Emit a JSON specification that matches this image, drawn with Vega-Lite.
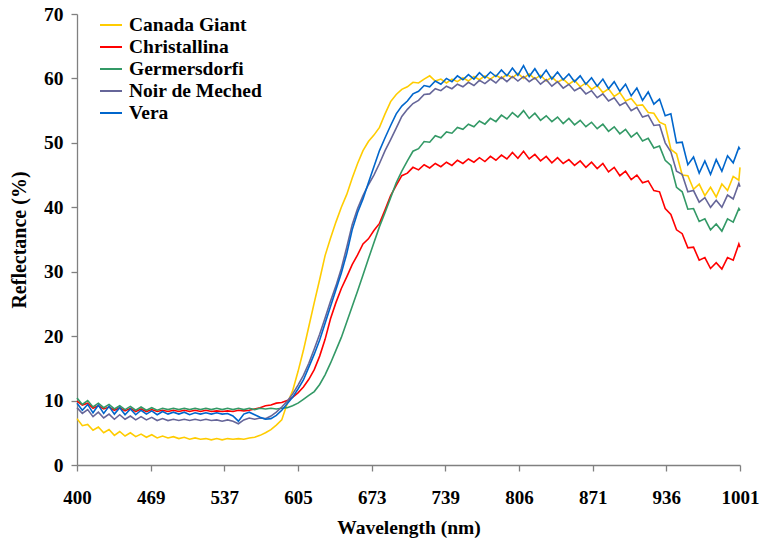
{
"$schema": "https://vega.github.io/schema/vega-lite/v6.json",
"width": 663, "height": 451,
"autosize": {"type": "none"},
"padding": {"left": 77, "top": 14, "right": 21, "bottom": 78},
"background": "white",
"config": {"view": {"stroke": null}, "font": "Times New Roman, Liberation Serif, serif"},
"data": {"values": [
{"w":400,"Canada Giant":7.2,"Christallina":9.9,"Germersdorfi":10.4,"Noir de Meched":8.9,"Vera":9.6},
{"w":405,"Canada Giant":6.1,"Christallina":9.3,"Germersdorfi":9.4,"Noir de Meched":8.0,"Vera":8.5},
{"w":410,"Canada Giant":6.3,"Christallina":9.6,"Germersdorfi":10.0,"Noir de Meched":8.6,"Vera":9.4},
{"w":415,"Canada Giant":5.4,"Christallina":8.8,"Germersdorfi":9.0,"Noir de Meched":7.5,"Vera":8.1},
{"w":420,"Canada Giant":5.9,"Christallina":9.2,"Germersdorfi":9.6,"Noir de Meched":8.2,"Vera":9.3},
{"w":425,"Canada Giant":5.0,"Christallina":8.7,"Germersdorfi":8.9,"Noir de Meched":7.3,"Vera":8.0},
{"w":430,"Canada Giant":5.5,"Christallina":9.0,"Germersdorfi":9.4,"Noir de Meched":7.9,"Vera":9.1},
{"w":435,"Canada Giant":4.6,"Christallina":8.5,"Germersdorfi":8.7,"Noir de Meched":7.1,"Vera":7.9},
{"w":440,"Canada Giant":5.2,"Christallina":8.9,"Germersdorfi":9.2,"Noir de Meched":7.8,"Vera":8.9},
{"w":445,"Canada Giant":4.5,"Christallina":8.4,"Germersdorfi":8.6,"Noir de Meched":7.1,"Vera":7.8},
{"w":450,"Canada Giant":5.0,"Christallina":8.8,"Germersdorfi":9.1,"Noir de Meched":7.6,"Vera":8.7},
{"w":455,"Canada Giant":4.4,"Christallina":8.3,"Germersdorfi":8.5,"Noir de Meched":7.0,"Vera":7.8},
{"w":460,"Canada Giant":4.8,"Christallina":8.7,"Germersdorfi":9.0,"Noir de Meched":7.5,"Vera":8.5},
{"w":465,"Canada Giant":4.3,"Christallina":8.3,"Germersdorfi":8.5,"Noir de Meched":7.0,"Vera":7.9},
{"w":470,"Canada Giant":4.7,"Christallina":8.6,"Germersdorfi":8.9,"Noir de Meched":7.4,"Vera":8.4},
{"w":475,"Canada Giant":4.2,"Christallina":8.3,"Germersdorfi":8.5,"Noir de Meched":6.9,"Vera":7.8},
{"w":480,"Canada Giant":4.5,"Christallina":8.5,"Germersdorfi":8.8,"Noir de Meched":7.2,"Vera":8.3},
{"w":485,"Canada Giant":4.2,"Christallina":8.3,"Germersdorfi":8.6,"Noir de Meched":6.9,"Vera":7.9},
{"w":490,"Canada Giant":4.4,"Christallina":8.5,"Germersdorfi":8.8,"Noir de Meched":7.1,"Vera":8.2},
{"w":495,"Canada Giant":4.1,"Christallina":8.3,"Germersdorfi":8.6,"Noir de Meched":6.9,"Vera":7.9},
{"w":500,"Canada Giant":4.3,"Christallina":8.5,"Germersdorfi":8.8,"Noir de Meched":7.1,"Vera":8.2},
{"w":505,"Canada Giant":4.0,"Christallina":8.3,"Germersdorfi":8.6,"Noir de Meched":6.9,"Vera":7.8},
{"w":510,"Canada Giant":4.2,"Christallina":8.5,"Germersdorfi":8.8,"Noir de Meched":7.1,"Vera":8.1},
{"w":515,"Canada Giant":4.0,"Christallina":8.3,"Germersdorfi":8.6,"Noir de Meched":6.9,"Vera":7.9},
{"w":520,"Canada Giant":4.1,"Christallina":8.5,"Germersdorfi":8.8,"Noir de Meched":7.1,"Vera":8.1},
{"w":525,"Canada Giant":3.9,"Christallina":8.3,"Germersdorfi":8.6,"Noir de Meched":6.9,"Vera":7.9},
{"w":530,"Canada Giant":4.1,"Christallina":8.4,"Germersdorfi":8.8,"Noir de Meched":7.0,"Vera":8.1},
{"w":535,"Canada Giant":3.9,"Christallina":8.3,"Germersdorfi":8.6,"Noir de Meched":6.8,"Vera":7.9},
{"w":540,"Canada Giant":4.1,"Christallina":8.4,"Germersdorfi":8.8,"Noir de Meched":7.0,"Vera":8.0},
{"w":545,"Canada Giant":4.0,"Christallina":8.3,"Germersdorfi":8.6,"Noir de Meched":6.8,"Vera":7.6},
{"w":550,"Canada Giant":4.1,"Christallina":8.5,"Germersdorfi":8.8,"Noir de Meched":6.4,"Vera":6.8},
{"w":555,"Canada Giant":4.0,"Christallina":8.4,"Germersdorfi":8.6,"Noir de Meched":7.0,"Vera":7.9},
{"w":560,"Canada Giant":4.2,"Christallina":8.5,"Germersdorfi":8.8,"Noir de Meched":7.3,"Vera":8.2},
{"w":565,"Canada Giant":4.3,"Christallina":8.7,"Germersdorfi":8.6,"Noir de Meched":7.1,"Vera":7.8},
{"w":570,"Canada Giant":4.6,"Christallina":8.9,"Germersdorfi":8.8,"Noir de Meched":7.3,"Vera":7.4},
{"w":575,"Canada Giant":5.0,"Christallina":9.2,"Germersdorfi":8.7,"Noir de Meched":7.2,"Vera":7.1},
{"w":580,"Canada Giant":5.5,"Christallina":9.3,"Germersdorfi":8.8,"Noir de Meched":7.6,"Vera":7.2},
{"w":585,"Canada Giant":6.2,"Christallina":9.6,"Germersdorfi":8.7,"Noir de Meched":8.2,"Vera":7.7},
{"w":590,"Canada Giant":7.0,"Christallina":9.7,"Germersdorfi":8.8,"Noir de Meched":9.0,"Vera":8.5},
{"w":595,"Canada Giant":9.5,"Christallina":10.0,"Germersdorfi":8.9,"Noir de Meched":9.9,"Vera":9.5},
{"w":600,"Canada Giant":11.5,"Christallina":10.5,"Germersdorfi":9.2,"Noir de Meched":11.0,"Vera":10.5},
{"w":605,"Canada Giant":14.5,"Christallina":11.2,"Germersdorfi":9.6,"Noir de Meched":12.4,"Vera":11.8},
{"w":610,"Canada Giant":17.8,"Christallina":12.1,"Germersdorfi":10.2,"Noir de Meched":13.9,"Vera":13.2},
{"w":615,"Canada Giant":21.5,"Christallina":13.3,"Germersdorfi":10.8,"Noir de Meched":15.8,"Vera":15.2},
{"w":620,"Canada Giant":25.2,"Christallina":14.8,"Germersdorfi":11.4,"Noir de Meched":18.0,"Vera":17.2},
{"w":625,"Canada Giant":28.8,"Christallina":16.9,"Germersdorfi":12.5,"Noir de Meched":20.3,"Vera":19.4},
{"w":630,"Canada Giant":32.5,"Christallina":19.5,"Germersdorfi":14.0,"Noir de Meched":22.8,"Vera":22.0},
{"w":635,"Canada Giant":35.2,"Christallina":22.7,"Germersdorfi":15.8,"Noir de Meched":25.4,"Vera":24.6},
{"w":640,"Canada Giant":37.7,"Christallina":25.2,"Germersdorfi":17.8,"Noir de Meched":27.8,"Vera":27.2},
{"w":645,"Canada Giant":40.0,"Christallina":27.4,"Germersdorfi":19.8,"Noir de Meched":30.5,"Vera":29.8},
{"w":650,"Canada Giant":42.0,"Christallina":29.2,"Germersdorfi":22.2,"Noir de Meched":33.8,"Vera":32.8},
{"w":655,"Canada Giant":44.5,"Christallina":31.1,"Germersdorfi":24.6,"Noir de Meched":37.3,"Vera":36.5},
{"w":660,"Canada Giant":46.8,"Christallina":32.6,"Germersdorfi":27.0,"Noir de Meched":39.8,"Vera":39.2},
{"w":665,"Canada Giant":48.8,"Christallina":34.3,"Germersdorfi":29.5,"Noir de Meched":41.8,"Vera":41.3},
{"w":670,"Canada Giant":50.2,"Christallina":35.1,"Germersdorfi":32.0,"Noir de Meched":43.5,"Vera":43.8},
{"w":675,"Canada Giant":51.2,"Christallina":36.4,"Germersdorfi":34.5,"Noir de Meched":45.0,"Vera":46.3},
{"w":680,"Canada Giant":52.4,"Christallina":37.5,"Germersdorfi":37.0,"Noir de Meched":46.8,"Vera":48.8},
{"w":685,"Canada Giant":54.5,"Christallina":39.6,"Germersdorfi":39.2,"Noir de Meched":48.8,"Vera":50.8},
{"w":690,"Canada Giant":56.4,"Christallina":41.8,"Germersdorfi":41.5,"Noir de Meched":50.5,"Vera":52.7},
{"w":695,"Canada Giant":57.5,"Christallina":43.4,"Germersdorfi":43.8,"Noir de Meched":52.3,"Vera":54.5},
{"w":700,"Canada Giant":58.3,"Christallina":44.9,"Germersdorfi":45.6,"Noir de Meched":54.1,"Vera":55.7},
{"w":705,"Canada Giant":58.7,"Christallina":45.3,"Germersdorfi":47.2,"Noir de Meched":55.2,"Vera":56.5},
{"w":710,"Canada Giant":59.4,"Christallina":46.2,"Germersdorfi":48.7,"Noir de Meched":56.1,"Vera":57.6},
{"w":715,"Canada Giant":59.3,"Christallina":45.8,"Germersdorfi":49.1,"Noir de Meched":56.6,"Vera":58.0},
{"w":720,"Canada Giant":59.9,"Christallina":46.6,"Germersdorfi":50.2,"Noir de Meched":57.5,"Vera":58.9},
{"w":725,"Canada Giant":60.4,"Christallina":46.1,"Germersdorfi":50.1,"Noir de Meched":57.6,"Vera":58.7},
{"w":730,"Canada Giant":59.6,"Christallina":46.8,"Germersdorfi":51.1,"Noir de Meched":58.4,"Vera":59.6},
{"w":735,"Canada Giant":59.9,"Christallina":46.3,"Germersdorfi":50.8,"Noir de Meched":58.1,"Vera":59.1},
{"w":740,"Canada Giant":59.3,"Christallina":47.0,"Germersdorfi":51.7,"Noir de Meched":58.8,"Vera":60.0},
{"w":745,"Canada Giant":59.9,"Christallina":46.5,"Germersdorfi":51.5,"Noir de Meched":58.4,"Vera":59.5},
{"w":750,"Canada Giant":59.5,"Christallina":47.3,"Germersdorfi":52.4,"Noir de Meched":59.1,"Vera":60.4},
{"w":755,"Canada Giant":60.1,"Christallina":46.8,"Germersdorfi":52.1,"Noir de Meched":58.7,"Vera":59.8},
{"w":760,"Canada Giant":59.6,"Christallina":47.5,"Germersdorfi":52.9,"Noir de Meched":59.4,"Vera":60.6},
{"w":765,"Canada Giant":60.3,"Christallina":47.0,"Germersdorfi":52.5,"Noir de Meched":58.9,"Vera":59.9},
{"w":770,"Canada Giant":59.8,"Christallina":47.7,"Germersdorfi":53.4,"Noir de Meched":59.7,"Vera":60.9},
{"w":775,"Canada Giant":60.4,"Christallina":47.1,"Germersdorfi":52.9,"Noir de Meched":59.2,"Vera":60.1},
{"w":780,"Canada Giant":59.9,"Christallina":47.9,"Germersdorfi":53.8,"Noir de Meched":59.9,"Vera":61.0},
{"w":785,"Canada Giant":60.5,"Christallina":47.3,"Germersdorfi":53.3,"Noir de Meched":59.3,"Vera":60.3},
{"w":790,"Canada Giant":60.0,"Christallina":48.1,"Germersdorfi":54.3,"Noir de Meched":60.2,"Vera":61.3},
{"w":795,"Canada Giant":60.6,"Christallina":47.5,"Germersdorfi":53.7,"Noir de Meched":59.5,"Vera":60.4},
{"w":800,"Canada Giant":60.1,"Christallina":48.5,"Germersdorfi":54.7,"Noir de Meched":60.3,"Vera":61.6},
{"w":805,"Canada Giant":60.8,"Christallina":47.6,"Germersdorfi":54.0,"Noir de Meched":59.6,"Vera":60.5},
{"w":810,"Canada Giant":60.0,"Christallina":48.7,"Germersdorfi":55.0,"Noir de Meched":60.3,"Vera":62.0},
{"w":815,"Canada Giant":60.7,"Christallina":47.5,"Germersdorfi":53.8,"Noir de Meched":59.5,"Vera":60.3},
{"w":820,"Canada Giant":59.9,"Christallina":48.2,"Germersdorfi":54.6,"Noir de Meched":60.1,"Vera":61.5},
{"w":825,"Canada Giant":60.5,"Christallina":47.2,"Germersdorfi":53.5,"Noir de Meched":59.1,"Vera":60.1},
{"w":830,"Canada Giant":59.6,"Christallina":47.9,"Germersdorfi":54.2,"Noir de Meched":59.8,"Vera":61.3},
{"w":835,"Canada Giant":60.2,"Christallina":46.9,"Germersdorfi":53.3,"Noir de Meched":58.8,"Vera":59.9},
{"w":840,"Canada Giant":59.4,"Christallina":47.7,"Germersdorfi":54.0,"Noir de Meched":59.5,"Vera":61.0},
{"w":845,"Canada Giant":59.9,"Christallina":46.8,"Germersdorfi":53.0,"Noir de Meched":58.5,"Vera":59.8},
{"w":850,"Canada Giant":59.1,"Christallina":47.4,"Germersdorfi":53.8,"Noir de Meched":59.1,"Vera":60.7},
{"w":855,"Canada Giant":59.7,"Christallina":46.5,"Germersdorfi":52.8,"Noir de Meched":58.1,"Vera":59.5},
{"w":860,"Canada Giant":58.7,"Christallina":47.2,"Germersdorfi":53.5,"Noir de Meched":58.6,"Vera":60.4},
{"w":865,"Canada Giant":59.3,"Christallina":46.2,"Germersdorfi":52.5,"Noir de Meched":57.6,"Vera":59.1},
{"w":870,"Canada Giant":58.3,"Christallina":47.0,"Germersdorfi":53.2,"Noir de Meched":58.1,"Vera":60.1},
{"w":875,"Canada Giant":58.9,"Christallina":46.0,"Germersdorfi":52.2,"Noir de Meched":57.0,"Vera":58.8},
{"w":880,"Canada Giant":57.8,"Christallina":46.8,"Germersdorfi":52.9,"Noir de Meched":57.6,"Vera":59.9},
{"w":885,"Canada Giant":58.4,"Christallina":45.5,"Germersdorfi":51.8,"Noir de Meched":56.5,"Vera":58.4},
{"w":890,"Canada Giant":57.2,"Christallina":46.2,"Germersdorfi":52.5,"Noir de Meched":57.0,"Vera":59.5},
{"w":895,"Canada Giant":57.8,"Christallina":44.9,"Germersdorfi":51.4,"Noir de Meched":55.8,"Vera":58.0},
{"w":900,"Canada Giant":56.5,"Christallina":45.6,"Germersdorfi":52.1,"Noir de Meched":56.3,"Vera":59.1},
{"w":905,"Canada Giant":56.9,"Christallina":44.3,"Germersdorfi":50.9,"Noir de Meched":55.0,"Vera":57.3},
{"w":910,"Canada Giant":55.8,"Christallina":45.0,"Germersdorfi":51.6,"Noir de Meched":55.5,"Vera":58.5},
{"w":915,"Canada Giant":55.9,"Christallina":43.8,"Germersdorfi":50.3,"Noir de Meched":54.0,"Vera":56.6},
{"w":920,"Canada Giant":54.7,"Christallina":44.1,"Germersdorfi":50.7,"Noir de Meched":54.3,"Vera":57.9},
{"w":925,"Canada Giant":54.6,"Christallina":42.6,"Germersdorfi":49.2,"Noir de Meched":52.7,"Vera":56.0},
{"w":930,"Canada Giant":53.2,"Christallina":42.4,"Germersdorfi":49.5,"Noir de Meched":52.8,"Vera":56.8},
{"w":935,"Canada Giant":52.8,"Christallina":39.8,"Germersdorfi":47.3,"Noir de Meched":50.0,"Vera":54.2},
{"w":940,"Canada Giant":49.0,"Christallina":38.9,"Germersdorfi":46.5,"Noir de Meched":48.6,"Vera":54.5},
{"w":945,"Canada Giant":48.3,"Christallina":36.5,"Germersdorfi":43.1,"Noir de Meched":45.6,"Vera":50.0},
{"w":950,"Canada Giant":45.0,"Christallina":35.9,"Germersdorfi":42.4,"Noir de Meched":45.1,"Vera":50.1},
{"w":955,"Canada Giant":44.9,"Christallina":33.7,"Germersdorfi":39.7,"Noir de Meched":42.4,"Vera":46.6},
{"w":960,"Canada Giant":42.8,"Christallina":33.8,"Germersdorfi":39.8,"Noir de Meched":42.6,"Vera":47.8},
{"w":965,"Canada Giant":43.6,"Christallina":31.8,"Germersdorfi":37.8,"Noir de Meched":40.8,"Vera":45.3},
{"w":970,"Canada Giant":41.8,"Christallina":32.2,"Germersdorfi":38.2,"Noir de Meched":41.5,"Vera":47.2},
{"w":975,"Canada Giant":43.1,"Christallina":30.5,"Germersdorfi":36.5,"Noir de Meched":40.0,"Vera":45.1},
{"w":980,"Canada Giant":41.6,"Christallina":31.4,"Germersdorfi":37.4,"Noir de Meched":41.1,"Vera":47.4},
{"w":985,"Canada Giant":43.6,"Christallina":30.4,"Germersdorfi":36.3,"Noir de Meched":40.0,"Vera":45.6},
{"w":990,"Canada Giant":42.6,"Christallina":32.2,"Germersdorfi":38.2,"Noir de Meched":41.9,"Vera":48.0},
{"w":995,"Canada Giant":44.8,"Christallina":31.8,"Germersdorfi":37.7,"Noir de Meched":41.3,"Vera":46.9},
{"w":1000,"Canada Giant":44.2,"Christallina":34.3,"Germersdorfi":39.8,"Noir de Meched":43.7,"Vera":49.3},
{"w":1001,"Canada Giant":46.2,"Christallina":33.8,"Germersdorfi":39.5,"Noir de Meched":43.2,"Vera":49.0}
]},
"transform": [{"fold": ["Canada Giant", "Christallina", "Germersdorfi", "Noir de Meched", "Vera"], "as": ["Variety", "Reflectance"]}],
"mark": {"type": "line", "strokeWidth": 1.6},
"encoding": {
  "x": {"field": "w", "type": "quantitative",
    "scale": {"domain": [400, 469, 537, 605, 673, 739, 806, 871, 936, 1001], "range": [0, 73.67, 147.33, 221, 294.67, 368.33, 442, 515.67, 589.33, 663], "nice": false, "zero": false},
    "axis": {"title": "Wavelength (nm)", "values": [400, 469, 537, 605, 673, 739, 806, 871, 936, 1001], "format": "d", "grid": false,
      "domainColor": "#808080", "tickColor": "#808080", "tickSize": 6, "domainWidth": 1.3, "tickWidth": 1.3,
      "labelFont": "Times New Roman, Liberation Serif, serif", "labelFontWeight": "bold", "labelFontSize": 19, "labelColor": "black", "labelPadding": 17, "labelFlush": false,
      "titleFont": "Times New Roman, Liberation Serif, serif", "titleFontWeight": "bold", "titleFontSize": 19.5, "titleColor": "black", "titlePadding": 11}},
  "y": {"field": "Reflectance", "type": "quantitative",
    "scale": {"domain": [0, 70], "nice": false},
    "axis": {"title": "Reflectance (%)", "values": [0, 10, 20, 30, 40, 50, 60, 70], "grid": false,
      "domainColor": "#808080", "tickColor": "#808080", "tickSize": 6, "domainWidth": 1.3, "tickWidth": 1.3,
      "labelFont": "Times New Roman, Liberation Serif, serif", "labelFontWeight": "bold", "labelFontSize": 19.5, "labelColor": "black", "labelPadding": 8,
      "titleFont": "Times New Roman, Liberation Serif, serif", "titleFontWeight": "bold", "titleFontSize": 20, "titleColor": "black", "titlePadding": 14}},
  "color": {"field": "Variety", "type": "nominal",
    "scale": {"domain": ["Canada Giant", "Christallina", "Germersdorfi", "Noir de Meched", "Vera"], "range": ["#FFCC00", "#FF0000", "#339966", "#666699", "#0066CC"]},
    "legend": {"title": null, "orient": "none", "legendX": 22, "legendY": -1, "symbolType": "stroke", "symbolSize": 484, "symbolStrokeWidth": 2,
      "labelFont": "Times New Roman, Liberation Serif, serif", "labelFontWeight": "bold", "labelFontSize": 19.5, "labelColor": "black", "labelOffset": 6, "rowPadding": -1.5, "labelLimit": 300}}
}
}
